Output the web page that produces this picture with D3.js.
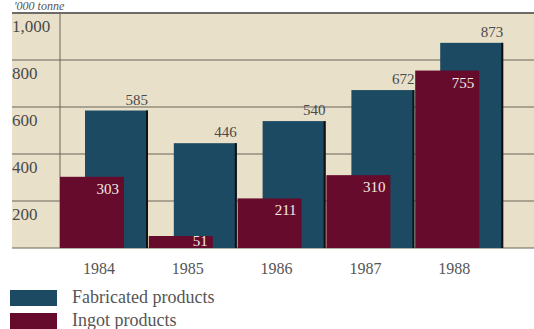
<!DOCTYPE html>
<html>
<head>
<meta charset="utf-8">
<script src="https://cdn.jsdelivr.net/npm/d3@7"></script>
<style>
  body { margin: 0; background: #fff; }
  svg { display: block; }
  text { font-family: "Liberation Serif", "DejaVu Serif", serif; }
</style>
</head>
<body>
<svg id="chart" width="534" height="329"></svg>
<script>
var years = ["1984", "1985", "1986", "1987", "1988"];
var fabricated = [585, 446, 540, 672, 873];
var ingot = [303, 51, 211, 310, 755];
var yTicks = [200, 400, 600, 800, 1000];
var seriesNames = ["Fabricated products", "Ingot products"];
var unitLabel = "'000 tonne";

var W = 534, H = 329;
var colFab = "#1c4a62", colIngot = "#660b2c", beige = "#e9e0ca";
var svg = d3.select("#chart");

var y = d3.scaleLinear().domain([0, 1000]).range([248, 13]);
var x = d3.scaleBand().domain(years).range([60, 504]).padding(0);
var colour = d3.scaleOrdinal().domain(seriesNames).range([colFab, colIngot]);

// panel
svg.append("rect").attr("x", 12).attr("y", 12).attr("width", W - 12).attr("height", 236).attr("fill", beige);

// unit label above the panel
svg.append("text").attr("x", 14).attr("y", 10)
  .attr("font-style", "italic").attr("font-size", 12).attr("fill", "#555")
  .text(unitLabel);

// grid
svg.selectAll("line.grid").data([0].concat(yTicks)).enter().append("line")
  .attr("class", "grid")
  .attr("x1", 12).attr("x2", W)
  .attr("y1", function(d){ return y(d); }).attr("y2", function(d){ return y(d); })
  .attr("stroke", function(d){ return d === 1000 ? "#444" : "#6a6558"; })
  .attr("stroke-width", function(d){ return d === 1000 ? 1.5 : 1; });

svg.append("line").attr("x1", 60).attr("x2", 60).attr("y1", 12).attr("y2", 248)
  .attr("stroke", "#6a6558").attr("stroke-width", 1);

// y labels hang below each gridline
svg.selectAll("text.ylab").data(yTicks).enter().append("text")
  .attr("class", "ylab")
  .attr("x", 12).attr("y", function(d){ return y(d) + 19; })
  .attr("font-size", 17).attr("fill", "#4a4a4a")
  .text(d3.format(","));

// fabricated bars
var fabW = 63, ingW = 64, off = 25;
var fab = svg.selectAll("g.fab").data(years).enter().append("g").attr("class", "fab");
fab.append("rect")
  .attr("x", function(d){ return x(d) + off; })
  .attr("y", function(d, i){ return y(fabricated[i]); })
  .attr("width", fabW)
  .attr("height", function(d, i){ return y(0) - y(fabricated[i]); })
  .attr("fill", colour(seriesNames[0]));
fab.append("line")
  .attr("x1", function(d){ return x(d) + off + fabW - 1; })
  .attr("x2", function(d){ return x(d) + off + fabW - 1; })
  .attr("y1", function(d, i){ return y(fabricated[i]); })
  .attr("y2", y(0))
  .attr("stroke", "#111").attr("stroke-width", 2);
fab.append("text")
  .attr("x", function(d){ return x(d) + off + fabW; })
  .attr("y", function(d, i){ return y(fabricated[i]) - 6; })
  .attr("text-anchor", "end").attr("font-size", 15).attr("fill", "#4a4a4a")
  .text(function(d, i){ return fabricated[i]; });

// ingot bars in front
var ing = svg.selectAll("g.ing").data(years).enter().append("g").attr("class", "ing");
ing.append("rect")
  .attr("x", function(d){ return x(d); })
  .attr("y", function(d, i){ return y(ingot[i]); })
  .attr("width", ingW)
  .attr("height", function(d, i){ return y(0) - y(ingot[i]); })
  .attr("fill", colour(seriesNames[1]));
ing.append("text")
  .attr("x", function(d){ return x(d) + ingW - 5; })
  .attr("y", function(d, i){ return Math.min(y(ingot[i]) + 17, y(0) - 2); })
  .attr("text-anchor", "end").attr("font-size", 15).attr("fill", "#f3ece4")
  .text(function(d, i){ return ingot[i]; });

// x labels
svg.selectAll("text.xlab").data(years).enter().append("text")
  .attr("class", "xlab")
  .attr("x", function(d){ return x(d) + 39; })
  .attr("y", 274)
  .attr("text-anchor", "middle").attr("font-size", 16).attr("fill", "#555")
  .text(function(d){ return d; });

// legend
var leg = svg.selectAll("g.leg").data(seriesNames).enter().append("g").attr("class", "leg")
  .attr("transform", function(d, i){ return "translate(10," + (290 + i * 23) + ")"; });
leg.append("rect").attr("width", 47).attr("height", 16).attr("fill", function(d){ return colour(d); });
leg.append("text").attr("x", 62).attr("y", 13)
  .attr("font-size", 18).attr("fill", "#555")
  .text(function(d){ return d; });
</script>
</body>
</html>
